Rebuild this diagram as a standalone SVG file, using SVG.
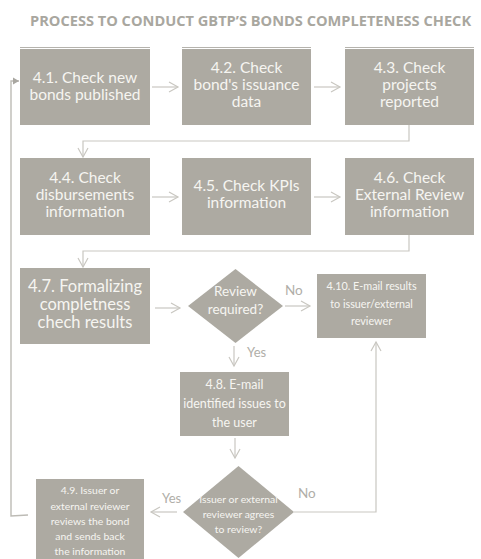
<svg xmlns="http://www.w3.org/2000/svg" width="481" height="559" viewBox="0 0 481 559">
<style>
.box{fill:#adaaa2}
.t{font-family:Lato,"Open Sans",sans-serif;fill:#f6f5f1;text-anchor:middle}
.c{fill:none;stroke:#c9c7c1;stroke-width:1.2}
.lbl{font-family:Lato,"Open Sans",sans-serif;fill:#b0aea8}
.title{font-family:"Open Sans",sans-serif;font-weight:bold;fill:#a9a79f;font-size:14.6px}
</style>
<defs>
<marker id="ah" markerWidth="12" markerHeight="12" refX="10" refY="6" orient="auto" markerUnits="userSpaceOnUse">
<path d="M1,1 L10,6 L1,11" fill="none" stroke="#c9c7c1" stroke-width="1.2"/>
</marker>
<marker id="fh" markerWidth="8" markerHeight="8" refX="6" refY="4" orient="auto" markerUnits="userSpaceOnUse">
<path d="M0,0.5 L6,4 L0,7.5 Z" fill="#a9a7a1"/>
</marker>
</defs>
<rect width="481" height="559" fill="#ffffff"/>
<text class="title" x="30" y="25.5">PROCESS TO CONDUCT GBTP’S BONDS COMPLETENESS CHECK</text>
<g id="toplines" stroke="#b5b3ad" stroke-width="1">
<line x1="20" y1="47.5" x2="150" y2="47.5"/>
<line x1="182" y1="47.5" x2="311" y2="47.5"/>
<line x1="345" y1="47.5" x2="474" y2="47.5"/>
</g>
<g id="connectors">
<line class="c" x1="152" y1="87" x2="178" y2="87" marker-end="url(#ah)"/>
<line class="c" x1="314" y1="87" x2="340" y2="87" marker-end="url(#ah)"/>
<polyline class="c" points="409,125 409,141 83,141 83,157" marker-end="url(#ah)"/>
<line class="c" x1="152" y1="197" x2="178" y2="197" marker-end="url(#ah)"/>
<line class="c" x1="314" y1="197" x2="340" y2="197" marker-end="url(#ah)"/>
<polyline class="c" points="409,235 409,251 83,251 83,267" marker-end="url(#ah)"/>
<line class="c" x1="155" y1="308" x2="180" y2="308" marker-end="url(#ah)"/>
<line class="c" x1="285" y1="306" x2="310" y2="306" marker-end="url(#ah)"/>
<line class="c" x1="234" y1="346" x2="234" y2="366" marker-end="url(#ah)"/>
<line class="c" x1="235" y1="438" x2="235" y2="458" marker-end="url(#ah)"/>
<polyline class="c" points="294,512 376,512 376,342" marker-end="url(#ah)"/>
<line class="c" x1="177" y1="512" x2="151" y2="512" marker-end="url(#ah)"/>
<polyline fill="none" stroke="#bdbbb5" stroke-width="1.4" points="28,515 11,516 11,81 19,81" marker-end="url(#fh)"/>
</g>
<g id="n41"><rect class="box" x="20" y="49" width="130" height="76"/>
<text class="t" font-size="15.5"><tspan x="85" y="83">4.1. Check new</tspan><tspan x="85" y="100">bonds published</tspan></text></g>
<g id="n42"><rect class="box" x="182" y="49" width="129" height="76"/>
<text class="t" font-size="15.5"><tspan x="246.5" y="73">4.2. Check</tspan><tspan x="246.5" y="90">bond's issuance</tspan><tspan x="246.5" y="107">data</tspan></text></g>
<g id="n43"><rect class="box" x="345" y="49" width="129" height="76"/>
<text class="t" font-size="15.5"><tspan x="409.5" y="73">4.3. Check</tspan><tspan x="409.5" y="90">projects</tspan><tspan x="409.5" y="107">reported</tspan></text></g>
<g id="n44"><rect class="box" x="20" y="158" width="130" height="77"/>
<text class="t" font-size="15.5"><tspan x="85" y="183">4.4. Check</tspan><tspan x="85" y="200">disbursements</tspan><tspan x="85" y="217">information</tspan></text></g>
<g id="n45"><rect class="box" x="182" y="158" width="129" height="77"/>
<text class="t" font-size="15.5"><tspan x="246.5" y="191">4.5. Check KPIs</tspan><tspan x="246.5" y="208">information</tspan></text></g>
<g id="n46"><rect class="box" x="345" y="158" width="129" height="77"/>
<text class="t" font-size="15.5"><tspan x="409.5" y="183">4.6. Check</tspan><tspan x="409.5" y="200">External Review</tspan><tspan x="409.5" y="217">information</tspan></text></g>
<g id="n47"><rect class="box" x="20" y="268" width="130" height="76"/>
<text class="t" font-size="16.5"><tspan x="85" y="292">4.7. Formalizing</tspan><tspan x="85" y="310">completness</tspan><tspan x="85" y="328">chech results</tspan></text></g>
<g id="d1"><polygon class="box" points="235.5,269 283,306 235.5,343 188,306"/>
<text class="t" font-size="13.5"><tspan x="235.5" y="296">Review</tspan><tspan x="235.5" y="314">required?</tspan></text></g>
<g id="n410"><rect class="box" x="317" y="274" width="109" height="64"/>
<text class="t" font-size="10.8"><tspan x="371.5" y="290">4.10. E-mail results</tspan><tspan x="371.5" y="308">to issuer/external</tspan><tspan x="371.5" y="325">reviewer</tspan></text></g>
<g id="n48"><rect class="box" x="180" y="372" width="109" height="64"/>
<text class="t" font-size="12.5"><tspan x="234.5" y="389">4.8. E-mail</tspan><tspan x="234.5" y="408">identified issues to</tspan><tspan x="234.5" y="427">the user</tspan></text></g>
<g id="d2"><polygon class="box" points="238.5,466 294,512 238.5,558 183,512"/>
<text class="t" font-size="10.4"><tspan x="238.5" y="503">Issuer or external</tspan><tspan x="238.5" y="518">reviewer agrees</tspan><tspan x="238.5" y="533">to review?</tspan></text></g>
<g id="n49"><rect class="box" x="36" y="479" width="108" height="82"/>
<text class="t" font-size="10.4"><tspan x="90" y="494">4.9. Issuer or</tspan><tspan x="90" y="510">external reviewer</tspan><tspan x="90" y="525">reviews the bond</tspan><tspan x="90" y="540">and sends back</tspan><tspan x="90" y="555">the information</tspan></text></g>
<g id="labels">
<text class="lbl" x="285" y="295" font-size="13.5">No</text>
<text class="lbl" x="247" y="357" font-size="13">Yes</text>
<text class="lbl" x="162" y="503" font-size="13">Yes</text>
<text class="lbl" x="298" y="498" font-size="13.5">No</text>
</g>
</svg>
